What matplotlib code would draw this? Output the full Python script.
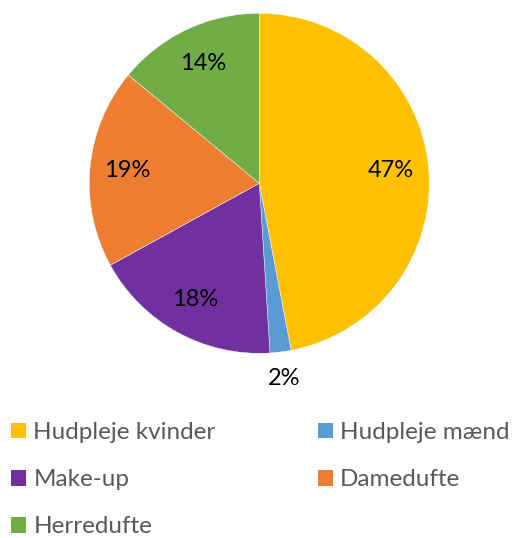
import matplotlib
matplotlib.use("Agg")
import matplotlib.pyplot as plt
import numpy as np
from matplotlib.patches import Patch

categories = ["Hudpleje kvinder", "Hudpleje mænd", "Make-up", "Damedufte", "Herredufte"]
values = [47, 2, 18, 19, 14]
colors = ["#FFC000", "#5B9BD5", "#7030A0", "#ED7D31", "#70AD47"]

plt.rcParams['font.family'] = ['Lato', 'DejaVu Sans']

W, H = 512, 538
fig = plt.figure(figsize=(W / 100, H / 100), dpi=100)
cx, cy, r = 259.3, 183.3, 170
ax = fig.add_axes([(cx - r) / W, (H - cy - r) / H, 2 * r / W, 2 * r / H])

wedges, texts, autotexts = ax.pie(
    values, colors=colors, startangle=90, counterclock=False,
    autopct=lambda p: f"{p:.0f}%", pctdistance=0.78, radius=1,
    wedgeprops=dict(edgecolor="white", linewidth=0.3),
    textprops=dict(fontsize=17, color="black"))
for w, t, v in zip(wedges, autotexts, values):
    if v < 5:
        ang = np.deg2rad((w.theta1 + w.theta2) / 2)
        t.set_position((1.155 * np.cos(ang), 1.155 * np.sin(ang)))
ax.set_xlim(-1, 1)
ax.set_ylim(-1, 1)
ax.set_aspect('equal')
ax.axis('off')

fs = 17.5
handles = [Patch(facecolor=c, edgecolor='none') for c in colors]
order = [0, 2, 4, 1, 3]
leg = fig.legend([handles[i] for i in order], [categories[i] for i in order],
                 ncol=2, loc='upper left', bbox_to_anchor=(0.0, (H - 411) / H),
                 frameon=False, fontsize=fs, handlelength=0.62, handleheight=0.62,
                 handletextpad=0.3, labelspacing=1.08, columnspacing=4.2,
                 borderaxespad=0, borderpad=0.45)
for t in leg.get_texts():
    t.set_color("#595959")

fig.savefig("out.png", dpi=100, facecolor="white")
